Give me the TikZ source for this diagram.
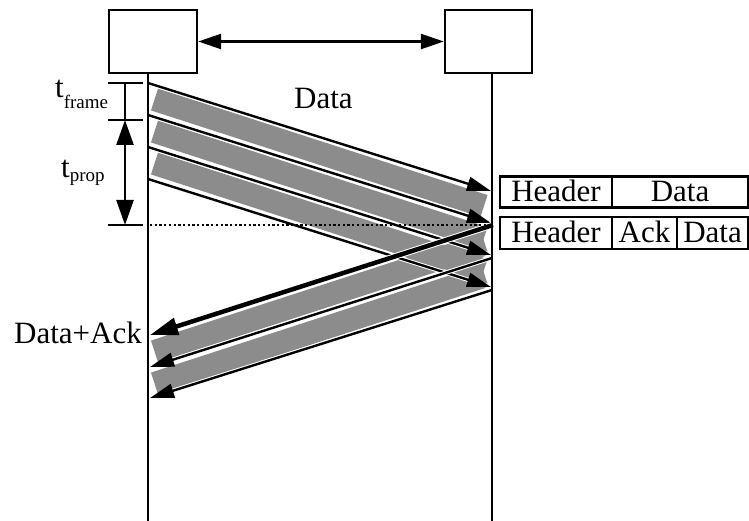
\documentclass[tikz,border=0pt]{standalone}
\usepackage{fontspec}
\setmainfont{Liberation Serif}
\usetikzlibrary{arrows.meta,calc}
\definecolor{bandgray}{RGB}{140,140,140}
\begin{document}
\begin{tikzpicture}[x=1pt,y=-1pt,line width=2.4pt,
  every node/.style={font=\fontsize{31}{36}\selectfont},
  box/.style={draw,line width=2.4pt,minimum height=63pt,inner sep=0pt},
  cell/.style={draw,line width=2.4pt,minimum height=31pt,inner sep=0pt,text height=20pt,text depth=0pt},
  lbl/.style={anchor=base west,inner sep=0pt},
  band/.style={draw=bandgray,line width=23pt,line cap=butt},
  halo/.style={preaction={draw=white,line width=4.4pt,arrows=-}},
  msg/.style={halo,line width=2.4pt,-{Triangle[length=24pt,width=14pt]}},
  thickmsg/.style={preaction={draw=white,line width=6.5pt,arrows=-},line width=4.5pt,-{Triangle[length=28pt,width=17pt]}},
  dbl/.style={line width=2.4pt,{Triangle[length=23pt,width=15pt]}-{Triangle[length=23pt,width=15pt]}},
  dim/.style={line width=2.4pt,{Triangle[length=25pt,width=17pt]}-{Triangle[length=25pt,width=17pt]}}
]
\useasboundingbox (0,0) rectangle (749,521);

% endpoints
\coordinate (LT) at (148,73);  \coordinate (LB) at (148,522);
\coordinate (RT) at (492,73);  \coordinate (RB) at (492,522);
\coordinate (d1s) at (148,83);  \coordinate (d1e) at (491,191);
\coordinate (d2s) at (148,115); \coordinate (d2e) at (491,223);
\coordinate (d3s) at (148,147); \coordinate (d3e) at (491,255);
\coordinate (d4s) at (148,179); \coordinate (d4e) at (491,287);
\coordinate (r1s) at (493,225); \coordinate (r1e) at (150,335);
\coordinate (r2s) at (492,258); \coordinate (r2e) at (150,367);
\coordinate (r3s) at (492,290); \coordinate (r3e) at (150,398);

% gray bands
\draw[band] (154.5,99.5) -- (484,206);
\draw[band] (154.5,131.5) -- (484,238);
\draw[band] (154.5,163.5) -- (484,270);
\draw[band] (485,244) -- (154.5,351.5);
\draw[band] (485,276) -- (154.5,383.5);

% messages
\draw[msg] (d1s) -- (d1e);
\draw[msg] (d2s) -- (d2e);
\draw[msg] (d3s) -- (d3e);
\draw[msg] (d4s) -- (d4e);
\draw[msg] (r2s) -- (r2e);
\draw[msg] (r3s) -- (r3e);
\draw[thickmsg] (r1s) -- (r1e);

% dotted line
\coordinate (dotL) at (150,225); \coordinate (dotR) at (492,225);
\draw[line width=2.4pt,dash pattern=on 2.3pt off 2.4pt] (dotL) -- (dotR);

% lifelines
\draw (LT) -- (LB);
\draw (RT) -- (RB);

% boxes
\node[box,minimum width=88pt] (A) at (153,41.5) {};
\node[box,minimum width=87pt] (B) at (488.5,41.5) {};
\draw[dbl] (A.east) -- (B.west);

% dimension ticks
\coordinate (k1a) at (108,83);  \coordinate (k1b) at (143,83);
\coordinate (k2a) at (108,120); \coordinate (k2b) at (143,120);
\coordinate (k3a) at (108,225); \coordinate (k3b) at (143,225);
\draw (k1a) -- (k1b);
\draw (k2a) -- (k2b);
\draw (k3a) -- (k3b);
\coordinate (v1) at (125,83); \coordinate (v2) at (125,120); \coordinate (v3) at (125,225);
\draw (v1) -- (v2);
\draw[dim] (v2) -- (v3);

% labels
\node[lbl] (tf) at (54,98) {t\raisebox{-11pt}{\fontsize{19}{19}\selectfont frame}};
\node[lbl] (tp) at (60,178) {t\raisebox{-4pt}{\fontsize{19}{19}\selectfont prop}};
\node[lbl] (dl) at (293,109) {Data};
\node[lbl] (dal) at (13,343) {Data+Ack};

% frame formats
\node[cell,minimum width=112pt] (h1) at (556,192) {Header};
\node[cell,minimum width=136pt] (f1) at (680,192) {Data};
\node[cell,minimum width=112pt,minimum height=32pt] (h2) at (556,233) {Header};
\node[cell,minimum width=65pt,minimum height=32pt] (a2) at (644.5,233) {Ack};
\node[cell,minimum width=71pt,minimum height=32pt] (f2) at (712.5,233) {Data};
\end{tikzpicture}
\end{document}
